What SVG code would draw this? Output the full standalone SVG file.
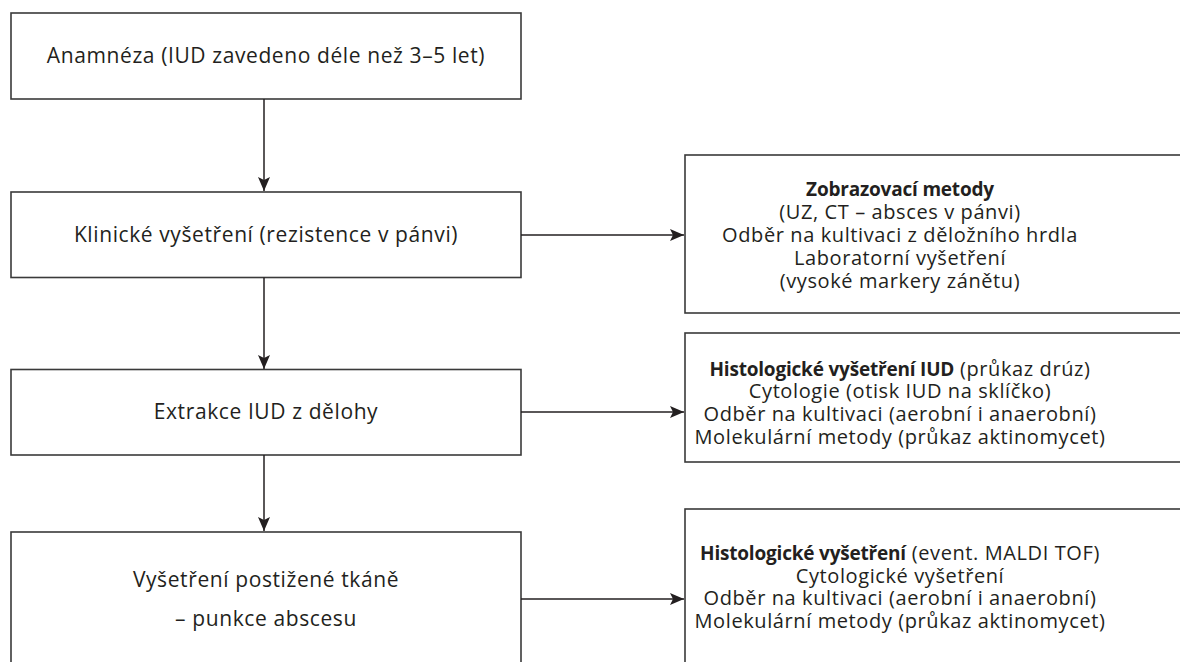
<svg xmlns="http://www.w3.org/2000/svg" width="1180" height="662" viewBox="0 0 1180 662">
<defs>
<marker id="ah" viewBox="0 0 14 12" refX="14" refY="6" markerWidth="14" markerHeight="12" markerUnits="userSpaceOnUse" orient="auto">
<path d="M0,0 L14,6 L0,12 L3,6 Z" fill="#231f20"/>
</marker>
<style>
.box{fill:#fff;stroke:#3a3a3a;stroke-width:1.6}
.t{font-family:"Open Sans","Liberation Sans",sans-serif;fill:#231f20;text-anchor:middle}
.l{font-size:21px;letter-spacing:0.6px}
.r{font-size:20px;letter-spacing:0.6px}
.b{font-weight:bold;font-size:19px;letter-spacing:-0.2px}
.c{stroke:#231f20;stroke-width:1.5;fill:none;marker-end:url(#ah)}
</style>
</defs>
<rect width="1180" height="662" fill="#fff"/>
<g id="n1">
<rect class="box" x="11" y="13" width="510" height="86"/>
<text class="t l" x="266" y="63">Anamnéza (IUD zavedeno déle než 3–5 let)</text>
</g>
<g id="n2">
<rect class="box" x="11" y="192" width="510" height="85.5"/>
<text class="t l" x="266" y="242">Klinické vyšetření (rezistence v pánvi)</text>
</g>
<g id="n3">
<rect class="box" x="11" y="369.5" width="510" height="85.5"/>
<text class="t l" x="266" y="419">Extrakce IUD z dělohy</text>
</g>
<g id="n4">
<rect class="box" x="11" y="532" width="510" height="150"/>
<text class="t l" x="266" y="587">Vyšetření postižené tkáně</text>
<text class="t l" x="266" y="626">– punkce abscesu</text>
</g>
<g id="r1">
<rect class="box" x="685" y="155" width="520" height="158"/>
<text class="t r" x="900"><tspan class="b" x="900" y="196">Zobrazovací metody</tspan><tspan x="900" y="219">(UZ, CT – absces v pánvi)</tspan><tspan x="900" y="242">Odběr na kultivaci z děložního hrdla</tspan><tspan x="900" y="265">Laboratorní vyšetření</tspan><tspan x="900" y="288">(vysoké markery zánětu)</tspan></text>
</g>
<g id="r2">
<rect class="box" x="685" y="333" width="520" height="129"/>
<text class="t r" x="900"><tspan x="900" y="376"><tspan class="b">Histologické vyšetření IUD</tspan> (průkaz drúz)</tspan><tspan x="900" y="398">Cytologie (otisk IUD na sklíčko)</tspan><tspan x="900" y="421">Odběr na kultivaci (aerobní i anaerobní)</tspan><tspan x="900" y="444">Molekulární metody (průkaz aktinomycet)</tspan></text>
</g>
<g id="r3">
<rect class="box" x="685" y="509" width="520" height="180"/>
<text class="t r" x="900"><tspan x="900" y="560"><tspan class="b">Histologické vyšetření</tspan> (event. MALDI TOF)</tspan><tspan x="900" y="583">Cytologické vyšetření</tspan><tspan x="900" y="605">Odběr na kultivaci (aerobní i anaerobní)</tspan><tspan x="900" y="628">Molekulární metody (průkaz aktinomycet)</tspan></text>
</g>
<g id="connectors">
<line class="c" x1="264" y1="99" x2="264" y2="191"/>
<line class="c" x1="264" y1="277.5" x2="264" y2="369"/>
<line class="c" x1="264" y1="455" x2="264" y2="531"/>
<line class="c" x1="521" y1="235" x2="684" y2="235"/>
<line class="c" x1="521" y1="412" x2="684" y2="412"/>
<line class="c" x1="521" y1="599" x2="684" y2="599"/>
</g>
</svg>
